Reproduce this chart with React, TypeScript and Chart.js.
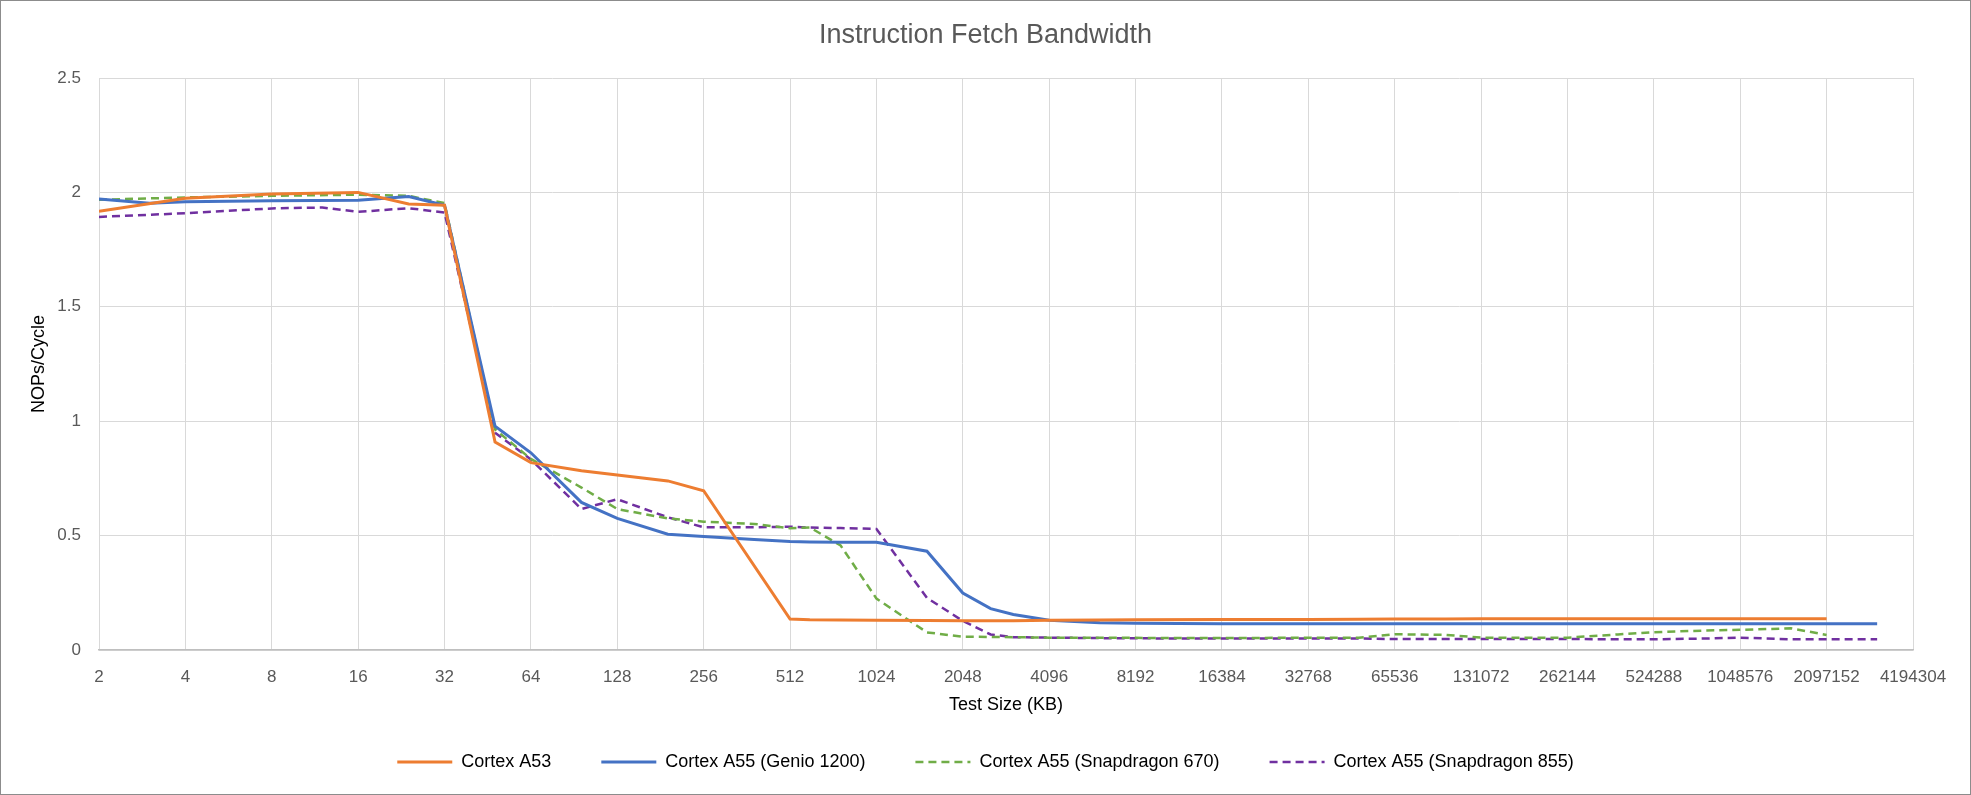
import React, { useEffect, useRef } from 'react';
import { Chart, registerables } from 'chart.js';

Chart.register(...registerables);

// test sizes in KB
const sizes = [
    2, 3, 4, 8, 12, 16, 24, 32, 48, 64, 96, 128, 192, 256, 384, 512, 600, 768, 1024, 1536,
    2048, 2560, 3072, 4096, 6144, 8192, 16384, 32768, 49152, 65536, 98304, 131072, 196608,
    262144, 393216, 524288, 786432, 1048576, 1572864, 2097152, 3145728,
];

const tickValues = [
    2, 4, 8, 16, 32, 64, 128, 256, 512, 1024, 2048, 4096, 8192, 16384, 32768, 65536,
    131072, 262144, 524288, 1048576, 2097152, 4194304,
];

const cortexA53 = [
    1.917, null, 1.974, 1.993, null, 2.0, 1.949, 1.944, 0.909, 0.819, 0.783, 0.765, 0.739, 0.696,
    null, 0.135, 0.132, 0.131, 0.13, 0.129, 0.128, null, 0.128, 0.13, 0.131, 0.132, 0.133, 0.133,
    0.134, 0.136, 0.136, 0.137, 0.137, 0.137, 0.137, 0.137, 0.137, 0.137, 0.137, 0.137, null,
];

const genio1200 = [
    1.971, 1.953, 1.959, 1.963, null, 1.966, 1.982, 1.944, 0.978, 0.862, 0.645, 0.575, 0.506,
    0.496, 0.483, 0.474, 0.472, 0.471, 0.471, 0.432, 0.249, 0.181, 0.155, 0.13, 0.119, 0.117,
    0.115, 0.115, 0.115, 0.115, 0.115, 0.115, 0.115, 0.115, 0.115, 0.115, 0.115, 0.115, 0.115,
    0.115, 0.115,
];

const snapdragon670 = [
    1.968, null, 1.978, 1.985, null, 1.99, 1.985, 1.953, 0.964, 0.835, 0.71, 0.616, 0.575, 0.561,
    0.551, 0.532, 0.536, 0.457, 0.225, 0.077, 0.058, null, 0.056, 0.054, 0.053, 0.053, 0.052,
    0.054, 0.054, 0.069, 0.066, 0.054, 0.054, 0.054, 0.068, 0.078, 0.085, 0.088, 0.095, 0.066,
    null,
];

const snapdragon855 = [
    1.893, null, 1.909, 1.93, 1.934, 1.915, 1.931, 1.912, 0.949, 0.833, 0.616, 0.659, 0.58, 0.536,
    0.536, 0.539, 0.535, 0.533, 0.529, 0.228, 0.127, 0.068, 0.056, 0.054, 0.052, 0.051, 0.05,
    0.05, 0.05, 0.048, 0.048, 0.048, 0.048, 0.048, 0.047, 0.047, 0.05, 0.054, 0.047, 0.047,
    0.047,
];

const FONT = "'Liberation Sans', Arial, sans-serif";

const toPoints = (values: (number | null)[]) =>
    sizes.map((x, i) => ({ x, y: values[i] })).filter(p => p.y !== null);

export default function App() {
    const chartRef = useRef<HTMLCanvasElement>(null);
    const chartInstance = useRef<Chart | null>(null);

    useEffect(() => {
        if (chartInstance.current) {
            chartInstance.current.destroy();
        }
        if (chartRef.current) {
            const ctx = chartRef.current.getContext('2d');
            if (ctx) {
                chartInstance.current = new Chart(ctx, {
                    type: 'line',
                    data: {
                        datasets: [
                            {
                                label: 'Cortex A53',
                                data: toPoints(cortexA53),
                                borderColor: '#ED7D31',
                                backgroundColor: '#ED7D31',
                                borderWidth: 3,
                            },
                            {
                                label: 'Cortex A55 (Genio 1200)',
                                data: toPoints(genio1200),
                                borderColor: '#4472C4',
                                backgroundColor: '#4472C4',
                                borderWidth: 3,
                            },
                            {
                                label: 'Cortex A55 (Snapdragon 670)',
                                data: toPoints(snapdragon670),
                                borderColor: '#70AD47',
                                backgroundColor: '#70AD47',
                                borderWidth: 2.5,
                                borderDash: [8, 5],
                            },
                            {
                                label: 'Cortex A55 (Snapdragon 855)',
                                data: toPoints(snapdragon855),
                                borderColor: '#7030A0',
                                backgroundColor: '#7030A0',
                                borderWidth: 2.5,
                                borderDash: [8, 5],
                            },
                        ],
                    },
                    options: {
                        responsive: true,
                        maintainAspectRatio: false,
                        animation: false,
                        layout: {
                            padding: { left: 57, right: 57, top: 0, bottom: 13 },
                        },
                        elements: {
                            point: { radius: 0 },
                            line: { tension: 0 },
                        },
                        plugins: {
                            title: {
                                display: true,
                                text: 'Instruction Fetch Bandwidth',
                                color: '#595959',
                                font: { family: FONT, size: 27, weight: 'normal' },
                                padding: { top: 18.5, bottom: 26.1 },
                            },
                            legend: {
                                position: 'bottom',
                                labels: {
                                    usePointStyle: true,
                                    pointStyle: 'line',
                                    pointStyleWidth: 55,
                                    padding: 50,
                                    color: '#000000',
                                    font: { family: FONT, size: 18 },
                                    // point style drops the dataset dash, so put it back
                                    generateLabels: (chart: any) =>
                                        Chart.defaults.plugins.legend.labels
                                            .generateLabels(chart)
                                            .map((item: any) => {
                                                const ds = chart.data.datasets[item.datasetIndex];
                                                item.lineDash = ds.borderDash || [];
                                                item.lineWidth = ds.borderWidth;
                                                item.strokeStyle = ds.borderColor;
                                                return item;
                                            }),
                                },
                            },
                            tooltip: { enabled: false },
                        },
                        scales: {
                            x: {
                                type: 'logarithmic',
                                min: 2,
                                max: 4194304,
                                afterBuildTicks: (scale: any) => {
                                    scale.ticks = tickValues.map(value => ({ value }));
                                },
                                afterFit: (scale: any) => {
                                    scale.height = 53;
                                },
                                ticks: {
                                    autoSkip: false,
                                    maxRotation: 0,
                                    padding: 17,
                                    color: '#595959',
                                    font: { family: FONT, size: 17 },
                                    callback: (value: any) => String(value),
                                },
                                grid: {
                                    color: '#d9d9d9',
                                    drawTicks: false,
                                },
                                border: {
                                    color: '#bfbfbf',
                                    width: 1.5,
                                },
                                title: {
                                    display: true,
                                    text: 'Test Size (KB)',
                                    color: '#000000',
                                    font: { family: FONT, size: 18 },
                                    padding: { top: 0, bottom: -12.8 },
                                },
                            },
                            y: {
                                min: 0,
                                max: 2.5,
                                afterFit: (scale: any) => {
                                    scale.width = 41;
                                },
                                ticks: {
                                    stepSize: 0.5,
                                    padding: 18,
                                    color: '#595959',
                                    font: { family: FONT, size: 17 },
                                    callback: (value: any) => String(Math.round(Number(value) * 10) / 10),
                                },
                                grid: {
                                    color: '#d9d9d9',
                                    drawTicks: false,
                                },
                                border: { display: false },
                                title: {
                                    display: true,
                                    text: 'NOPs/Cycle',
                                    color: '#000000',
                                    font: { family: FONT, size: 18 },
                                    padding: { top: -29.8, bottom: 0 },
                                },
                            },
                        },
                    },
                });
            }
        }
        return () => {
            if (chartInstance.current) {
                chartInstance.current.destroy();
                chartInstance.current = null;
            }
        };
    }, []);

    return (
        <div
            style={{
                position: 'fixed',
                left: 0,
                top: 0,
                width: '1971px',
                height: '795px',
                boxSizing: 'border-box',
                border: '1px solid #8c8c8c',
                background: '#ffffff',
            }}
        >
            <div style={{ position: 'relative', width: '100%', height: '100%' }}>
                <canvas ref={chartRef} />
            </div>
        </div>
    );
}
